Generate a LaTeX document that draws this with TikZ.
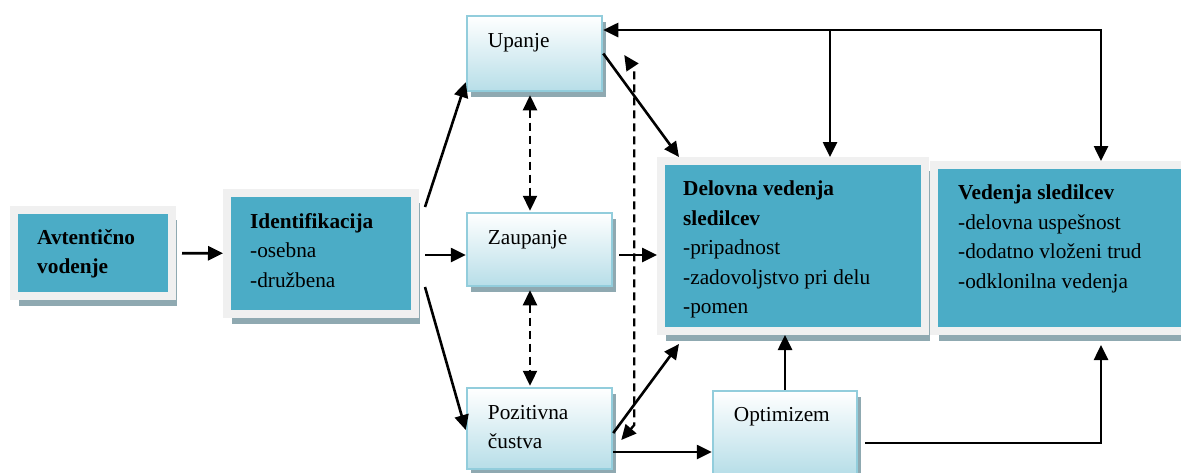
\documentclass[tikz,border=0pt]{standalone}
\usepackage{fontspec}
\setmainfont{Liberation Serif}
\usetikzlibrary{arrows.meta,shadows,calc}
\definecolor{cA}{HTML}{4BACC6}
\definecolor{cB}{HTML}{F0F0F0}
\definecolor{cC}{HTML}{8FA9B1}
\definecolor{cD}{HTML}{B7DEE8}
\definecolor{cE}{HTML}{92CDDC}
\tikzset{
  framebox/.style={draw=cB,line width=8pt,fill=cA,
    drop shadow={shadow xshift=5pt,shadow yshift=-10pt,fill=cC,opacity=1}},
  softbox/.style={draw=cE,line width=2.5pt,top color=white,bottom color=cD,
    drop shadow={shadow xshift=4pt,shadow yshift=-6pt,fill=cC,opacity=1}},
  txt/.style={anchor=north west,inner sep=0pt,align=left,
    font=\fontsize{21.3}{29.5}\selectfont},
  arr/.style={->,line width=2.6pt},
  darr/.style={<->,line width=2.3pt,dash pattern=on 8pt off 5pt},
}

\begin{document}
\begin{tikzpicture}[x=1pt,y=-1pt,>={Triangle[length=15pt,width=14pt]}]
  \path[use as bounding box,clip] (0,0) rectangle (1181,472);
  \coordinate (col) at (530,0);
  \coordinate (fb) at (1101,30);
  \coordinate (fbm) at (830,30);

  % boxes
  \node[framebox,minimum width=158,minimum height=86] (avt) at (93,253) {};
  \node[txt] (avt-txt) at ([shift={(27,23)}]avt.north west)
    {\textbf{Avtentično}\\\textbf{vodenje}};
  \node[framebox,minimum width=188,minimum height=121] (ident) at (321,253.5) {};
  \node[txt] (ident-txt) at ([shift={(27,24)}]ident.north west)
    {\textbf{Identifikacija}\\-osebna\\-družbena};

  \node[softbox,minimum width=135,minimum height=75] (upanje) at (534.5,53.5) {};
  \node[txt] (upanje-txt) at ([shift={(22,18)}]upanje.north west) {Upanje};
  \node[softbox,minimum width=145,minimum height=73] (zaupanje) at (539.5,249.5) {};
  \node[txt] (zaupanje-txt) at ([shift={(22,18)}]zaupanje.north west) {Zaupanje};
  \node[softbox,minimum width=145,minimum height=81] (pozitivna) at (539.5,428.5) {};
  \node[txt] (pozitivna-txt) at ([shift={(22,18)}]pozitivna.north west)
    {Pozitivna\\čustva};
  \node[softbox,minimum width=144,minimum height=83] (optimizem) at (785,432.5) {};
  \node[txt] (optimizem-txt) at ([shift={(22,17)}]optimizem.north west) {Optimizem};

  \node[framebox,minimum width=264,minimum height=170] (delovna) at (793,246) {};
  \node[txt] (delovna-txt) at ([shift={(26,24)}]delovna.north west)
    {\textbf{Delovna vedenja}\\\textbf{sledilcev}\\-pripadnost\\-zadovoljstvo pri delu\\-pomen};
  \node[framebox,minimum width=266,minimum height=166] (vedenja) at (1067,248) {};
  \node[txt] (vedenja-txt) at ([shift={(28,24)}]vedenja.north west)
    {\textbf{Vedenja sledilcev}\\-delovna uspešnost\\-dodatno vloženi trud\\-odklonilna vedenja};

  % connectors
  \draw[arr,shorten <=6pt] (avt) -- (ident);
  \draw[arr] ([shift={(6,18)}]ident.north east) -- ([shift={(0,-10)}]upanje.south west);
  \draw[arr] ([shift={(6,1.5)}]ident.east) -- ([shift={(0,5.5)}]zaupanje.west);
  \draw[arr] ([shift={(6,-31)}]ident.south east) -- ([shift={(0,1.5)}]pozitivna.west);
  \draw[darr,shorten <=3pt,shorten >=1pt] (col |- upanje.south) -- (col |- zaupanje.north);
  \draw[darr,shorten <=3pt,shorten >=1pt] (col |- zaupanje.south) -- (col |- pozitivna.north);
  \draw[arr] (upanje.east) -- ([shift={(22,0)}]delovna.north west);
  \draw[arr] ([shift={(6,5.5)}]zaupanje.east) -- ([shift={(0,9)}]delovna.west);
  \draw[arr] ([shift={(0,4.5)}]pozitivna.east) -- ([shift={(22,9)}]delovna.south west);
  \draw[arr] ([shift={(0,23.5)}]pozitivna.east) -- ([shift={(0,19.5)}]optimizem.west);
  \draw[darr] ([shift={(8,11.5)}]pozitivna.east) -- ++(13,-15)
    -- ([shift={(31,16.5)}]upanje.east) -- ([shift={(21,1.5)}]upanje.east);
  \draw[arr] (optimizem.north) -- (optimizem.north |- delovna.south);
  \draw[arr,shorten >=10pt] ([shift={(7,10.5)}]optimizem.east) -| (fb |- vedenja.south);
  \draw[arr,<->] (fb |- vedenja.north) -- (fb) -- (fb -| upanje.east);
  \draw[arr] (fbm) -- (fbm |- delovna.north);
\end{tikzpicture}
\end{document}
